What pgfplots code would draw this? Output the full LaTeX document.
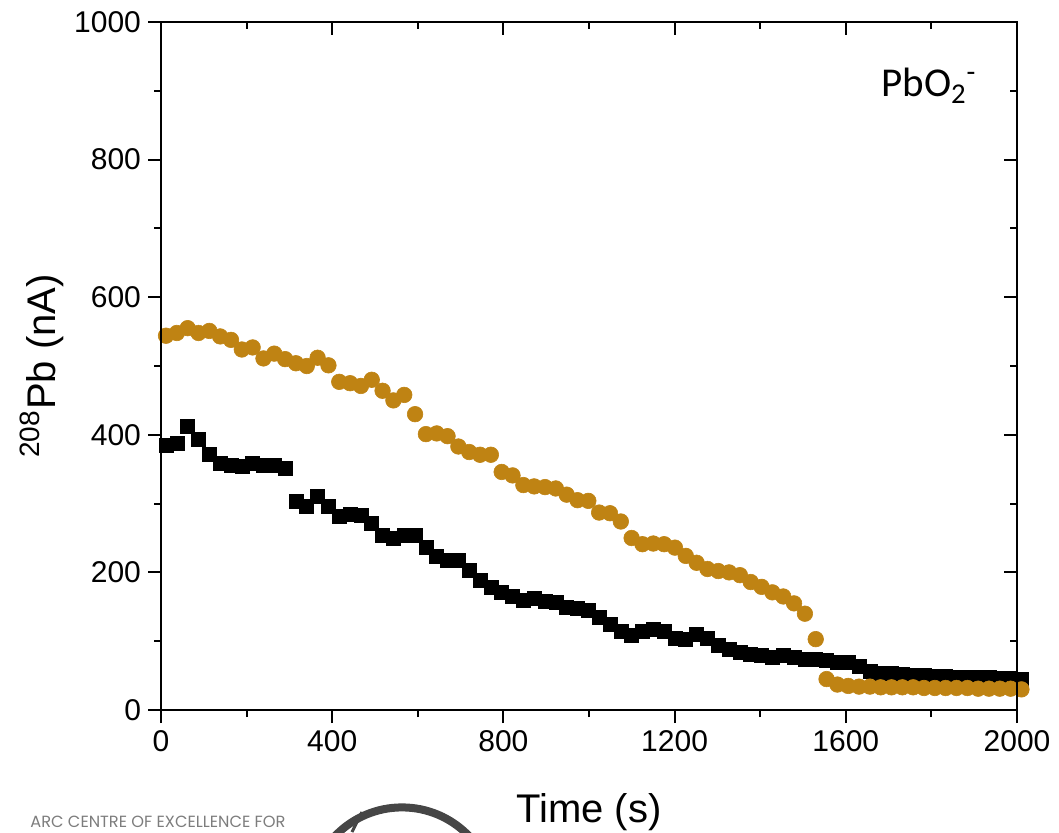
\documentclass[border=0pt]{standalone}
\usepackage{fontspec}
\setmainfont{Liberation Sans}
\newfontfamily\carlito{Carlito}
\newfontfamily\poppins{Poppins}
\usepackage{pgfplots}
\pgfplotsset{compat=1.18}
\definecolor{ochre}{RGB}{191,131,19}
\definecolor{logogray}{RGB}{125,125,125}
\definecolor{logodark}{RGB}{70,70,70}

\pgfplotstableread{
t y
11.7 385
37.0 388
62.3 413
87.6 393
112.9 372
138.2 359
163.5 356
188.8 354
214.1 359
239.4 355
264.7 356
290.0 351
315.3 303
340.6 296
365.9 310
391.2 296
416.5 281
441.8 284
467.1 283
492.4 271
517.7 254
543.0 250
568.3 254
593.6 254
618.9 237
644.2 223
669.5 217
694.8 217
720.1 203
745.4 189
770.7 179
796.0 171
821.3 165
846.6 160
871.9 163
897.2 158
922.5 157
947.8 150
973.1 148
998.4 145
1023.7 135
1049.0 124
1074.3 114
1099.6 108
1124.9 114
1150.2 117
1175.5 114
1200.8 104
1226.1 103
1251.4 110
1276.7 104
1302.0 94
1327.3 88
1352.6 84
1377.9 81
1403.2 79
1428.5 77
1453.8 80
1479.1 76
1504.4 74
1529.7 73
1555.0 72
1580.3 70
1605.6 69
1630.9 63
1656.2 56
1681.5 54
1706.8 53
1732.1 52
1757.4 51
1782.7 50
1808.0 49
1833.3 49
1858.6 48
1883.9 48
1909.2 47
1934.5 47
1959.8 46
1985.1 46
2010.4 45
}\blackdata

\pgfplotstableread{
t y
11.7 544
37.0 548
62.3 555
87.6 548
112.9 551
138.2 543
163.5 538
188.8 524
214.1 527
239.4 511
264.7 518
290.0 510
315.3 504
340.6 500
365.9 512
391.2 501
416.5 477
441.8 475
467.1 471
492.4 480
517.7 464
543.0 450
568.3 458
593.6 430
618.9 401
644.2 402
669.5 398
694.8 383
720.1 375
745.4 371
770.7 371
796.0 346
821.3 341
846.6 327
871.9 325
897.2 324
922.5 322
947.8 313
973.1 305
998.4 304
1023.7 287
1049.0 286
1074.3 274
1099.6 250
1124.9 241
1150.2 242
1175.5 241
1200.8 236
1226.1 224
1251.4 214
1276.7 205
1302.0 202
1327.3 200
1352.6 196
1377.9 186
1403.2 179
1428.5 171
1453.8 165
1479.1 155
1504.4 140
1529.7 103
1555.0 45
1580.3 37
1605.6 35
1630.9 34
1656.2 34
1681.5 33
1706.8 33
1732.1 33
1757.4 33
1782.7 32
1808.0 32
1833.3 32
1858.6 32
1883.9 32
1909.2 31
1934.5 31
1959.8 31
1985.1 31
2010.4 30
}\orangedata

\begin{document}
\begin{tikzpicture}
\useasboundingbox (0,0) rectangle (529.5pt,416pt);
\pgfplotsset{
  myframe/.style={
    scale only axis, width=428pt, height=344pt,
    at={(80.5pt,61pt)}, anchor=south west,
    xmin=0, xmax=2000, ymin=0, ymax=1000,
    xtick={0,400,...,2000}, ytick={0,200,...,1000},
    minor x tick num=1, minor y tick num=1,
    axis line style={line width=1.25pt},
    major tick length=6.5pt, minor tick length=3.5pt,
    every tick/.style={black, line width=1pt},
    /pgf/number format/1000 sep={},
    /pgf/number format/assume math mode=true,
  }
}
\begin{axis}[myframe,
  tick align=outside, xtick pos=left, ytick pos=left,
  ticklabel style={font=\fontsize{15}{17}\selectfont},
  clip=false,
  xlabel={Time (s)},
  ylabel={\textsuperscript{208}Pb (nA)},
  label style={font=\fontsize{20}{24}\selectfont},
  xlabel style={at={(axis description cs:0.5,-0.164)}, anchor=base},
  ylabel style={at={(axis description cs:-0.1238,0.5)}, anchor=base},
]
\addplot[only marks, mark=square*, mark size=3.5pt, draw=black, fill=black, line width=0.3pt] table[x=t,y=y] {\blackdata};
\addplot[only marks, mark=*, mark size=3.9pt, draw=ochre, fill=ochre, line width=0.3pt] table[x=t,y=y] {\orangedata};
\node[anchor=base west, font=\carlito\fontsize{20.5}{24}\selectfont, inner sep=0pt] at (axis description cs:0.841,0.891) {PbO\textsubscript{2}\textsuperscript{-}};
\end{axis}
\begin{axis}[myframe,
  tick align=inside, xtick pos=right, ytick pos=right,
  xticklabels={}, yticklabels={},
]
\end{axis}
% partial logo at the bottom edge
\node[anchor=base west, inner sep=0pt, text=logogray, font=\poppins\fontsize{8.1}{9}\selectfont] at (15pt,2.5pt) {ARC CENTRE OF EXCELLENCE FOR};
\draw[logodark, line width=4pt] (201pt,-34pt) circle[radius=46.3pt];
\draw[logodark, line width=1.5pt] (176pt,0pt) -- (181pt,10pt);
\end{tikzpicture}
\end{document}
